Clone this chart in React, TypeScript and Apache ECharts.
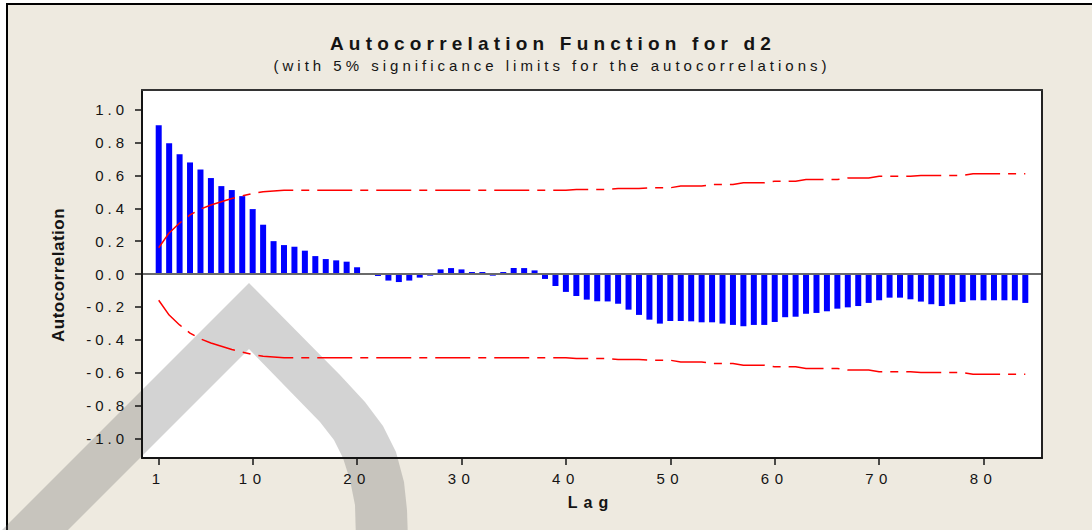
import React, { useEffect, useRef } from 'react';
import * as echarts from 'echarts';

const TITLE = 'Autocorrelation Function for d2';
const SUBTITLE = '(with 5% significance limits for the autocorrelations)';
const X_NAME = 'Lag';
const Y_NAME = 'Autocorrelation';

const lags = [
  1, 2, 3, 4, 5, 6, 7, 8, 9, 10,
  11, 12, 13, 14, 15, 16, 17, 18, 19, 20,
  21, 22, 23, 24, 25, 26, 27, 28, 29, 30,
  31, 32, 33, 34, 35, 36, 37, 38, 39, 40,
  41, 42, 43, 44, 45, 46, 47, 48, 49, 50,
  51, 52, 53, 54, 55, 56, 57, 58, 59, 60,
  61, 62, 63, 64, 65, 66, 67, 68, 69, 70,
  71, 72, 73, 74, 75, 76, 77, 78, 79, 80,
  81, 82, 83, 84,
];

const acf = [
  0.906, 0.796, 0.729, 0.679, 0.636, 0.584, 0.535, 0.511, 0.474, 0.395,
  0.300, 0.200, 0.176, 0.166, 0.142, 0.109, 0.091, 0.083, 0.075, 0.041,
  0.006, -0.012, -0.040, -0.049, -0.040, -0.022, -0.010, 0.028, 0.036, 0.028,
  0.012, 0.012, -0.010, 0.012, 0.036, 0.036, 0.022, -0.030, -0.073, -0.109,
  -0.134, -0.156, -0.166, -0.167, -0.181, -0.217, -0.249, -0.278, -0.302, -0.286,
  -0.286, -0.288, -0.294, -0.294, -0.302, -0.310, -0.318, -0.310, -0.310, -0.292,
  -0.263, -0.260, -0.242, -0.237, -0.227, -0.211, -0.203, -0.195, -0.176, -0.160,
  -0.144, -0.144, -0.154, -0.168, -0.184, -0.195, -0.184, -0.170, -0.160, -0.160,
  -0.160, -0.160, -0.160, -0.176,
];

const upperLimit = [
  0.16, 0.25, 0.31, 0.36, 0.395, 0.42, 0.44, 0.46, 0.475, 0.49,
  0.50, 0.505, 0.51, 0.51, 0.51, 0.51, 0.51, 0.51, 0.51, 0.51,
  0.51, 0.51, 0.51, 0.51, 0.51, 0.51, 0.51, 0.51, 0.51, 0.51,
  0.51, 0.51, 0.51, 0.51, 0.51, 0.51, 0.51, 0.51, 0.51, 0.51,
  0.515, 0.515, 0.515, 0.515, 0.52, 0.52, 0.52, 0.525, 0.525, 0.525,
  0.535, 0.535, 0.535, 0.545, 0.545, 0.545, 0.555, 0.555, 0.555, 0.565,
  0.565, 0.565, 0.575, 0.575, 0.575, 0.575, 0.585, 0.585, 0.585, 0.595,
  0.595, 0.595, 0.595, 0.60, 0.60, 0.60, 0.60, 0.60, 0.61, 0.61,
  0.61, 0.61, 0.61, 0.61,
];

const lowerLimit = [
  -0.16, -0.25, -0.31, -0.36, -0.395, -0.42, -0.44, -0.46, -0.475, -0.49,
  -0.50, -0.505, -0.51, -0.51, -0.51, -0.51, -0.51, -0.51, -0.51, -0.51,
  -0.51, -0.51, -0.51, -0.51, -0.51, -0.51, -0.51, -0.51, -0.51, -0.51,
  -0.51, -0.51, -0.51, -0.51, -0.51, -0.51, -0.51, -0.51, -0.51, -0.51,
  -0.515, -0.515, -0.515, -0.515, -0.52, -0.52, -0.52, -0.525, -0.525, -0.525,
  -0.535, -0.535, -0.535, -0.545, -0.545, -0.545, -0.555, -0.555, -0.555, -0.565,
  -0.565, -0.565, -0.575, -0.575, -0.575, -0.575, -0.585, -0.585, -0.585, -0.595,
  -0.595, -0.595, -0.595, -0.60, -0.60, -0.60, -0.60, -0.60, -0.61, -0.61,
  -0.61, -0.61, -0.61, -0.61,
];

const xTicks = [1, 10, 20, 30, 40, 50, 60, 70, 80];
const yTicks = [-1.0, -0.8, -0.6, -0.4, -0.2, 0.0, 0.2, 0.4, 0.6, 0.8, 1.0];

const FONT = "'Liberation Sans', Arial, Helvetica, sans-serif";
const INK = '#141414';

function applyLetterSpacing(root: HTMLElement | null) {
  if (!root) return;
  root.querySelectorAll('text').forEach((t) => {
    const s = (t.textContent || '').trim();
    let ls = 0;
    if (s === TITLE) ls = 5.2;
    else if (s === SUBTITLE) ls = 4;
    else if (s === X_NAME) ls = 6;
    else if (s === Y_NAME) ls = 0.5;
    else if (/^-?\d+\.\d$/.test(s)) ls = 4;
    else if (/^\d+$/.test(s)) ls = 5.5;
    if (ls) {
      t.setAttribute('letter-spacing', String(ls));
      (t as any).style.letterSpacing = ls + 'px';
    }
  });
}

export default function App() {
  const ref = useRef<HTMLDivElement>(null);

  useEffect(() => {
    if (!ref.current) return;
    const chart = echarts.init(ref.current, undefined, { renderer: 'svg' });

    const barData = lags.map((l, i) => [l, acf[i]]);
    const upData = lags.map((l, i) => [l, upperLimit[i]]);
    const loData = lags.map((l, i) => [l, lowerLimit[i]]);

    const limitStyle = {
      color: '#ff0000',
      width: 1.5,
      type: [35, 8, 8, 8] as any,
    };

    const option: any = {
      animation: false,
      backgroundColor: 'transparent',
      grid: {
        left: 142,
        right: 50,
        top: 90,
        bottom: 72,
        show: true,
        backgroundColor: '#ffffff',
        borderWidth: 0,
        z: 0,
      },
      xAxis: [
        {
          type: 'value',
          min: -0.6,
          max: 85.6,
          position: 'bottom',
          z: 5,
          axisLine: { show: true, onZero: false, lineStyle: { color: INK, width: 2 } },
          axisTick: {
            show: true,
            length: 7,
            customValues: xTicks,
            lineStyle: { color: INK, width: 1.5 },
          },
          axisLabel: {
            show: true,
            customValues: xTicks,
            margin: 13,
            fontSize: 15,
            fontFamily: FONT,
            color: INK,
            formatter: (v: number) => String(v),
          },
          splitLine: { show: false },
        },
        {
          type: 'value',
          min: -0.6,
          max: 85.6,
          position: 'top',
          z: 5,
          axisLine: { show: true, onZero: false, lineStyle: { color: '#333', width: 2 } },
          axisTick: { show: false },
          axisLabel: { show: false },
          splitLine: { show: false },
        },
      ],
      yAxis: [
        {
          type: 'value',
          min: -1.12,
          max: 1.12,
          position: 'left',
          z: 5,
          axisLine: { show: true, onZero: false, lineStyle: { color: INK, width: 2 } },
          axisTick: {
            show: true,
            length: 7,
            customValues: yTicks,
            lineStyle: { color: INK, width: 1.5 },
          },
          axisLabel: {
            show: true,
            customValues: yTicks,
            margin: 14,
            fontSize: 15,
            fontFamily: FONT,
            color: INK,
            formatter: (v: number) => v.toFixed(1),
          },
          splitLine: { show: false },
        },
        {
          type: 'value',
          min: -1.12,
          max: 1.12,
          position: 'right',
          z: 5,
          axisLine: { show: true, onZero: false, lineStyle: { color: '#222', width: 2 } },
          axisTick: { show: false },
          axisLabel: { show: false },
          splitLine: { show: false },
        },
      ],
      series: [
        {
          type: 'bar',
          xAxisIndex: 0,
          yAxisIndex: 0,
          data: barData,
          barWidth: 6,
          z: 2,
          itemStyle: { color: '#0000ff' },
          markLine: {
            silent: true,
            symbol: ['none', 'none'],
            label: { show: false },
            lineStyle: { color: '#6a6a6a', width: 2, type: 'solid' },
            data: [{ yAxis: 0 }],
          },
        },
        {
          type: 'line',
          xAxisIndex: 0,
          yAxisIndex: 0,
          data: upData,
          showSymbol: false,
          symbol: 'none',
          z: 3,
          lineStyle: limitStyle,
        },
        {
          type: 'line',
          xAxisIndex: 0,
          yAxisIndex: 0,
          data: loData,
          showSymbol: false,
          symbol: 'none',
          z: 3,
          lineStyle: limitStyle,
        },
      ],
      graphic: [
        {
          type: 'polygon',
          z: 1,
          silent: true,
          shape: {
            points: [
              [-10, 542], [249, 283], [340, 375], [365, 402], [383, 426],
              [396, 452], [404, 482], [407, 510], [408, 540], [356, 540],
              [355, 505], [350, 480], [343, 458], [334, 440], [320, 422],
              [249, 349], [57, 541],
            ],
          },
          style: { fill: 'rgba(110,110,110,0.3)' },
        },
        {
          type: 'text',
          z: 10,
          x: 553,
          y: 43,
          style: {
            text: TITLE,
            fill: INK,
            font: `bold 19px ${FONT}`,
            align: 'center',
            verticalAlign: 'middle',
            textAlign: 'center',
            textVerticalAlign: 'middle',
          },
        },
        {
          type: 'text',
          z: 10,
          x: 552,
          y: 65,
          style: {
            text: SUBTITLE,
            fill: INK,
            font: `15px ${FONT}`,
            align: 'center',
            verticalAlign: 'middle',
            textAlign: 'center',
            textVerticalAlign: 'middle',
          },
        },
        {
          type: 'text',
          z: 10,
          x: 591,
          y: 502,
          style: {
            text: X_NAME,
            fill: INK,
            font: `bold 16px ${FONT}`,
            align: 'center',
            verticalAlign: 'middle',
            textAlign: 'center',
            textVerticalAlign: 'middle',
          },
        },
        {
          type: 'text',
          z: 10,
          x: 58,
          y: 275,
          rotation: Math.PI / 2,
          style: {
            text: Y_NAME,
            fill: INK,
            font: `bold 17px ${FONT}`,
            align: 'center',
            verticalAlign: 'middle',
            textAlign: 'center',
            textVerticalAlign: 'middle',
          },
        },
      ],
    };

    chart.setOption(option);
    applyLetterSpacing(ref.current);
    const onFinished = () => applyLetterSpacing(ref.current);
    chart.on('finished', onFinished);
    const t = window.setTimeout(() => applyLetterSpacing(ref.current), 50);

    return () => {
      window.clearTimeout(t);
      chart.off('finished', onFinished);
      chart.dispose();
    };
  }, []);

  return (
    <div
      style={{
        position: 'absolute',
        left: 0,
        top: 0,
        width: 1092,
        height: 530,
        background: '#ffffff',
        overflow: 'hidden',
      }}
    >
      <div
        style={{
          position: 'absolute',
          left: 6,
          top: 3,
          width: 1086,
          height: 527,
          boxSizing: 'border-box',
          background: '#EEEAE0',
          borderTop: '2px solid #000',
          borderLeft: '2px solid #000',
        }}
      />
      <div
        ref={ref}
        style={{ position: 'absolute', left: 0, top: 0, width: 1092, height: 530 }}
      />
    </div>
  );
}
